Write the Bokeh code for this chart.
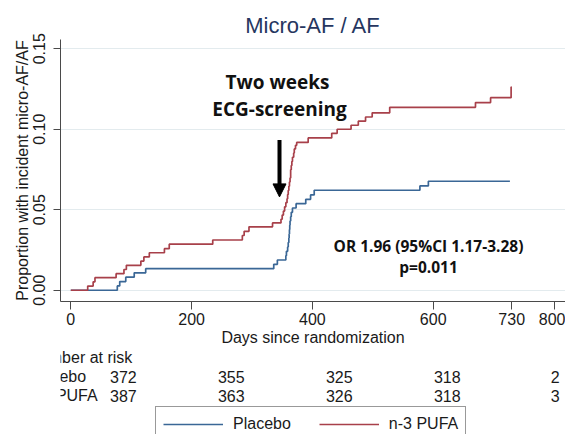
from bokeh.plotting import figure
from bokeh.layouts import column
from bokeh.models import (Range1d, FixedTicker, NumeralTickFormatter, Label,
                          Arrow, NormalHead, Legend, LegendItem)
from bokeh.core.properties import value
from bokeh.embed import file_html
from bokeh.resources import INLINE

# ---------------- data ----------------
title_text = "Micro-AF / AF"
group_names = ["Placebo", "n-3 PUFA"]

placebo_days = [0, 77, 81, 91, 105, 124, 336, 342, 356, 357, 359, 360, 361, 361.5, 362,
                362.5, 363, 364, 365, 367, 373, 389, 397, 403, 578, 592, 727]
placebo_cuminc = [0, 0.0027, 0.0054, 0.0081, 0.0108, 0.0134, 0.0161, 0.0188, 0.0215, 0.0242,
                  0.0269, 0.0296, 0.0323, 0.0350, 0.0377, 0.0403, 0.0430, 0.0457, 0.0484,
                  0.0511, 0.0538, 0.0565, 0.0592, 0.0621, 0.0648, 0.0677, 0.0677]

pufa_days = [0, 28, 37, 40, 75, 88, 92, 116, 121, 130, 155, 163, 235, 284, 287, 295, 334, 348,
             350, 352, 354, 356, 358, 359, 360, 361, 362, 363, 364, 365, 366, 367, 369, 370,
             372, 374, 393, 432, 441, 464, 476, 488, 499, 528, 670, 695, 729, 730]
pufa_cuminc = [0, 0.0026, 0.0052, 0.0078, 0.0103, 0.0129, 0.0155, 0.0181, 0.0207, 0.0233,
               0.0258, 0.0286, 0.0312, 0.0340, 0.0366, 0.0394, 0.0418, 0.0441, 0.0467, 0.0492,
               0.0518, 0.0544, 0.0568, 0.0594, 0.0620, 0.0646, 0.0672, 0.0698, 0.0749, 0.0775,
               0.0800, 0.0826, 0.0852, 0.0878, 0.0900, 0.0918, 0.0946, 0.0975, 0.1000, 0.1025,
               0.1050, 0.1076, 0.1102, 0.1136, 0.1166, 0.1196, 0.1262, 0.1262]

x_ticks = [0, 200, 400, 600, 730, 800]
y_ticks = [0.0, 0.05, 0.10, 0.15]

risk_header = "Number at risk"
risk_days = [0, 200, 400, 600, 800]
risk_placebo = [372, 355, 325, 318, 2]
risk_pufa = [387, 363, 326, 318, 3]

annot_lines = ["Two weeks", "ECG-screening"]
or_lines = ["OR 1.96 (95%CI 1.17-3.28)", "p=0.011"]

# ---------------- layout constants ----------------
W = 565
H1, H2 = 348, 86
BL, BR, BT, BB = 60, 0, 39, 46
X0, KX = 70.3, 0.604      # px of day 0, px per day
Y0, KY = 290.7, 1616.0    # px of value 0, px per unit


def px2x(px):
    return (px - X0) / KX


def px2y(py):
    return (Y0 - py) / KY


FONT = "Liberation Sans"
BOLD = "Open Sans"
BLUE = "#3a6796"
RED = "#a8404a"
TXT = "#1a1a1a"

# ---------------- main plot ----------------
p = figure(width=W, height=H1, output_backend="svg", toolbar_location=None,
           x_range=Range1d(px2x(BL), px2x(W - BR)),
           y_range=Range1d(px2y(H1 - BB), px2y(BT)),
           min_border_left=BL, min_border_right=BR, min_border_top=BT, min_border_bottom=BB)
p.outline_line_color = None
p.background_fill_color = "white"
p.border_fill_color = "white"

p.title.text = title_text
p.title.align = "center"
p.title.text_font = FONT
p.title.text_font_size = "22px"
p.title.text_font_style = "normal"
p.title.text_color = "#26365f"
p.title.standoff = 4

r_pl = p.step(placebo_days, placebo_cuminc, mode="after", line_color=BLUE, line_width=1.7)
r_pu = p.step(pufa_days, pufa_cuminc, mode="after", line_color=RED, line_width=1.7)

for ax in (p.xaxis, p.yaxis):
    ax.axis_line_color = "#4a4a4a"
    ax.major_tick_line_color = "#4a4a4a"
    ax.minor_tick_line_color = None
    ax.major_tick_in = 0
    ax.major_label_text_font = FONT
    ax.major_label_text_font_size = "16px"
    ax.major_label_text_color = TXT
    ax.axis_label_text_font = FONT
    ax.axis_label_text_font_size = "16px"
    ax.axis_label_text_font_style = "normal"
    ax.axis_label_text_color = TXT

p.xaxis.ticker = FixedTicker(ticks=x_ticks)
p.xaxis.major_tick_out = 8
p.xaxis.major_label_standoff = 3
p.xaxis.axis_label = "Days since randomization"
p.xaxis.axis_label_standoff = 1

p.yaxis.ticker = FixedTicker(ticks=y_ticks)
p.yaxis.formatter = NumeralTickFormatter(format="0.00")
p.yaxis.major_label_orientation = "vertical"
p.yaxis.major_tick_out = 7
p.yaxis.major_label_standoff = 8
p.yaxis.axis_label = "Proportion with incident micro-AF/AF"
p.yaxis.axis_label_standoff = 0

p.xgrid.visible = False
p.ygrid.grid_line_color = "#e3ebee"
p.ygrid.grid_line_width = 1

# screening annotation
p.add_layout(Label(x=px2x(277), y=px2y(82), text=annot_lines[0], text_align="center",
                   text_baseline="middle", text_font=BOLD, text_font_style="bold",
                   text_font_size="19px", text_color="#111111"))
p.add_layout(Label(x=px2x(279), y=px2y(109), text=annot_lines[1], text_align="center",
                   text_baseline="middle", text_font=BOLD, text_font_style="bold",
                   text_font_size="19px", text_color="#111111"))
p.add_layout(Arrow(end=NormalHead(size=13, fill_color="black", line_color="black"),
                   x_start=px2x(279), y_start=px2y(140), x_end=px2x(279), y_end=px2y(197),
                   line_width=4, line_color="black"))

# OR annotation
p.add_layout(Label(x=px2x(428), y=px2y(246), text=or_lines[0], text_align="center",
                   text_baseline="middle", text_font=BOLD, text_font_style="bold",
                   text_font_size="15.5px", text_color="#111111"))
p.add_layout(Label(x=px2x(428), y=px2y(267), text=or_lines[1], text_align="center",
                   text_baseline="middle", text_font=BOLD, text_font_style="bold",
                   text_font_size="15.5px", text_color="#111111"))

# ---------------- risk table + legend ----------------
q = figure(width=W, height=H2, output_backend="svg", toolbar_location=None,
           x_range=Range1d(px2x(0), px2x(W)), y_range=Range1d(H2, 0),
           min_border_left=0, min_border_right=0, min_border_top=0, min_border_bottom=0)
q.axis.visible = False
q.grid.visible = False
q.outline_line_color = None
q.background_fill_color = "white"
q.border_fill_color = "white"

ROW_Y = [9, 28, 47]       # px from top of the table panel
LEFT_X = px2x(-36)

q.text(x=[LEFT_X], y=[ROW_Y[0]], text=[risk_header], text_align="left",
       text_baseline="middle", text_font=value(FONT), text_font_size="16px", text_color=TXT)
for name, vals, yy in zip(group_names, [risk_placebo, risk_pufa], ROW_Y[1:]):
    q.text(x=[LEFT_X], y=[yy], text=[name], text_align="left", text_baseline="middle",
           text_font=value(FONT), text_font_size="16px", text_color=TXT)
    q.text(x=risk_days, y=[yy] * len(risk_days), text=[str(v) for v in vals],
           text_align="center", text_baseline="middle", text_font=value(FONT),
           text_font_size="16px", text_color=TXT)

q_pl = q.step(placebo_days, placebo_cuminc, mode="after", line_color=BLUE, line_width=1.7,
              visible=False)
q_pu = q.step(pufa_days, pufa_cuminc, mode="after", line_color=RED, line_width=1.7,
              visible=False)

legend = Legend(items=[LegendItem(label=group_names[0], renderers=[q_pl]),
                       LegendItem(label=group_names[1], renderers=[q_pu])],
                orientation="horizontal", location=(95, -8),
                label_text_font=FONT, label_text_font_size="16px", label_text_color=TXT,
                glyph_width=60, glyph_height=20, label_standoff=10, spacing=28,
                padding=7, margin=0, border_line_color="#333333", border_line_width=1,
                background_fill_color="white", background_fill_alpha=1.0)
q.add_layout(legend, "center")

layout = column(p, q, spacing=0)
open("out.html", "w").write(file_html(layout, INLINE))
